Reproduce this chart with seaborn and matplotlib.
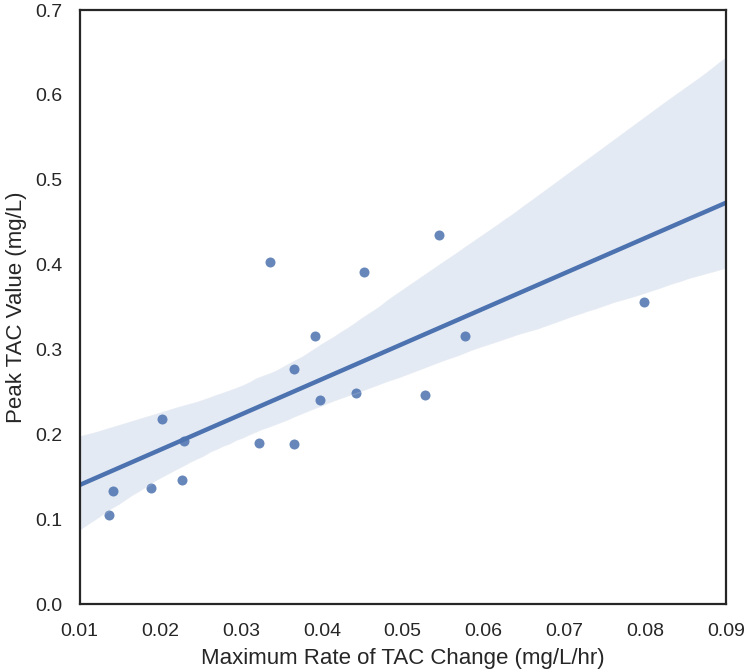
import numpy as np
import pandas as pd
import matplotlib
matplotlib.use("Agg")
import matplotlib.pyplot as plt
import seaborn as sns

max_rate = [0.0136, 0.0141, 0.0189, 0.0202, 0.0229, 0.0227, 0.0322, 0.0366, 0.0336,
            0.0452, 0.0545, 0.0391, 0.0365, 0.0397, 0.0442, 0.0528, 0.0577, 0.0799]
peak_tac = [0.105, 0.133, 0.137, 0.218, 0.192, 0.146, 0.190, 0.189, 0.403,
            0.391, 0.435, 0.316, 0.277, 0.240, 0.249, 0.247, 0.316, 0.356]

x_label = "Maximum Rate of TAC Change (mg/L/hr)"
y_label = "Peak TAC Value (mg/L)"

df = pd.DataFrame({"rate": max_rate, "peak": peak_tac})

sns.set_theme(style="white")
plt.rcParams["font.family"] = ["Liberation Sans", "DejaVu Sans"]
plt.rcParams["axes.edgecolor"] = "#262626"

fig = plt.figure(figsize=(7.5, 6.72), dpi=100)
ax = fig.add_axes([0.106, 0.101, 0.862, 0.884])
ax.set_xlim(0.01, 0.09)
ax.set_ylim(0.0, 0.7)
sns.regplot(data=df, x="rate", y="peak", ax=ax, truncate=False, seed=3,
            color="#4c72b0", scatter_kws={"s": 52, "alpha": 0.85, "linewidths": 0},
            line_kws={"lw": 3.2})
ax.set_xlim(0.01, 0.09)
ax.set_ylim(0.0, 0.7)
ax.set_xticks(np.arange(0.01, 0.0901, 0.01))
ax.set_xticklabels([f"{v:.2f}" for v in np.arange(0.01, 0.0901, 0.01)])
ax.set_yticks(np.arange(0.0, 0.701, 0.1))
ax.set_yticklabels([f"{v:.1f}" for v in np.arange(0.0, 0.701, 0.1)])
ax.tick_params(labelsize=14, colors="#262626")
ax.tick_params(axis="x", pad=7.5)
ax.tick_params(axis="y", pad=6)
ax.set_xlabel(x_label, fontsize=16, color="#262626", labelpad=6)
ax.set_ylabel(y_label, fontsize=16, color="#262626", labelpad=6)
for s in ax.spines.values():
    s.set_linewidth(1.6)
    s.set_color("#262626")
fig.savefig("out.png", dpi=100)
